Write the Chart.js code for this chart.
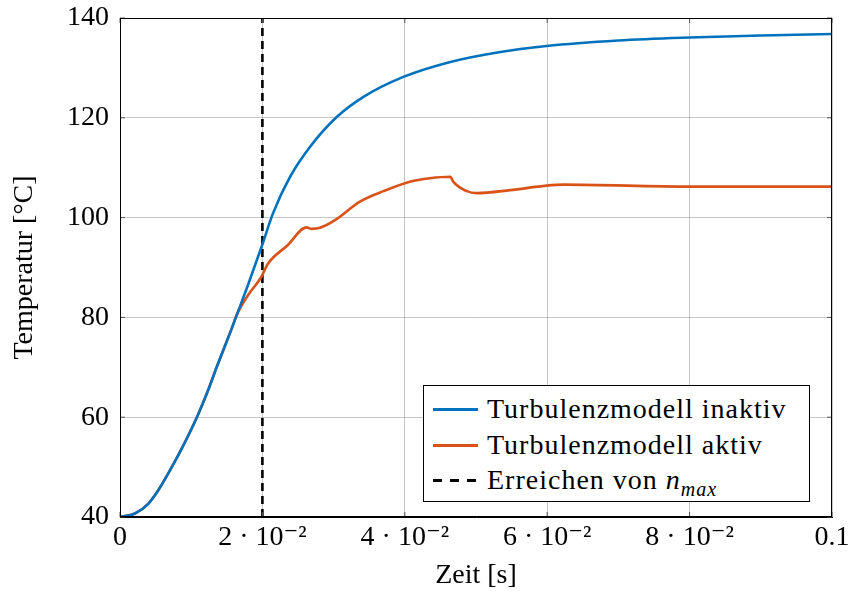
<!DOCTYPE html>
<html>
<head>
<meta charset="utf-8">
<script src="https://cdn.jsdelivr.net/npm/chart.js@4"></script>
<style>
  body { margin: 0; background: #fff; }
  #wrap { position: relative; width: 849px; height: 599px; }
  #legend {
    position: absolute; left: 423px; top: 385px; width: 385px; height: 110px;
    border: 1px solid #000; background: #fff; padding-top: 5px; box-sizing: content-box;
    font-family: "Liberation Serif", "DejaVu Serif", serif; font-size: 28px; letter-spacing: 1px; color: #000;
  }
  #legend .row { height: 35.5px; line-height: 35.5px; white-space: nowrap; padding-left: 9px; }
  #legend .swatch { display: inline-block; width: 45px; height: 3px; vertical-align: middle; margin-right: 9px; position: relative; top: -2px; }
  #legend sub { font-size: 20px; line-height: 0; }
</style>
</head>
<body>
<div id="wrap">
  <canvas id="chart" width="849" height="599"></canvas>
  <div id="legend">
    <div class="row"><span class="swatch" style="background:#0072BD"></span>Turbulenzmodell inaktiv</div>
    <div class="row"><span class="swatch" style="background:#D95319"></span>Turbulenzmodell aktiv</div>
    <div class="row"><span class="swatch" style="background:repeating-linear-gradient(to right,#000 0 9px,transparent 9px 17px)"></span>Erreichen von <i>n</i><sub><i>max</i></sub></div>
  </div>
</div>
<script>
// Zeitpunkte [s] und Temperaturen [°C]
const zeitInaktiv = [0, 0.0021, 0.004, 0.0054, 0.0068, 0.0087, 0.0108, 0.0124, 0.0136, 0.0157, 0.0164, 0.018, 0.0199, 0.0215, 0.0239, 0.0267, 0.0304, 0.0342, 0.0398, 0.0464, 0.053, 0.0599, 0.07, 0.08, 0.09, 0.1];
const tempInaktiv = [40, 40.7, 42.7, 45.4, 48.8, 53.8, 60.0, 65.5, 70.1, 77.8, 80.5, 86.6, 94.2, 100.9, 108.2, 114.2, 120.1, 124.2, 128.2, 131.2, 133.1, 134.4, 135.5, 136.1, 136.5, 136.8];

const zeitAktiv = [0, 0.0021, 0.004, 0.0054, 0.0068, 0.0087, 0.0108, 0.0124, 0.0136, 0.0157, 0.0164, 0.018, 0.0198, 0.0208, 0.0235, 0.0262, 0.0269, 0.0281, 0.0302, 0.0337, 0.037, 0.0407, 0.0435, 0.0464, 0.0468, 0.0487, 0.0501, 0.0548, 0.0599, 0.0623, 0.08, 0.1];
const tempAktiv = [40, 40.7, 42.7, 45.4, 48.8, 53.8, 60.0, 65.5, 70.1, 77.8, 80.5, 84.5, 88.0, 90.8, 94.4, 98.05, 97.75, 97.97, 99.5, 103.2, 105.3, 107.2, 107.9, 108.2, 107.2, 105.3, 104.9, 105.5, 106.4, 106.6, 106.2, 106.2];

// Erreichen von n_max
const zeitNmax = 0.02;

const xTickLabels = ['0', '2 · 10⁻²', '4 · 10⁻²', '6 · 10⁻²', '8 · 10⁻²', '0.1'];
const yTicks = [40, 60, 80, 100, 120, 140];

const serif = { family: '"Liberation Serif", "DejaVu Serif", serif', size: 28 };

const toPoints = (xs, ys) => xs.map((x, i) => ({ x: x, y: ys[i] }));

// Rahmen und kleine Tickstriche innen
const frame = {
    id: 'frame',
    afterDraw(chart) {
        const { ctx, chartArea: a, scales } = chart;
        ctx.save();
        ctx.strokeStyle = '#555';
        ctx.lineWidth = 1;
        ctx.beginPath();
        scales.x.ticks.forEach(t => {
            const px = scales.x.getPixelForValue(t.value);
            ctx.moveTo(px, a.bottom); ctx.lineTo(px, a.bottom - 5);
            ctx.moveTo(px, a.top); ctx.lineTo(px, a.top + 5);
        });
        scales.y.ticks.forEach(t => {
            const py = scales.y.getPixelForValue(t.value);
            ctx.moveTo(a.left, py); ctx.lineTo(a.left + 5, py);
            ctx.moveTo(a.right, py); ctx.lineTo(a.right - 5, py);
        });
        ctx.stroke();
        ctx.strokeStyle = '#000';
        ctx.strokeRect(a.left + 0.5, a.top + 0.5, a.right - a.left - 1, a.bottom - a.top - 1);
        ctx.restore();
    }
};

new Chart(document.getElementById('chart'), {
    type: 'line',
    data: {
        datasets: [
            {
                label: 'Turbulenzmodell inaktiv',
                data: toPoints(zeitInaktiv, tempInaktiv),
                borderColor: '#0072BD',
                borderWidth: 2.6,
                pointRadius: 0,
                cubicInterpolationMode: 'monotone'
            },
            {
                label: 'Turbulenzmodell aktiv',
                data: toPoints(zeitAktiv, tempAktiv),
                borderColor: '#D95319',
                borderWidth: 2.6,
                pointRadius: 0,
                cubicInterpolationMode: 'monotone'
            },
            {
                label: 'Erreichen von n_max',
                data: [{ x: zeitNmax, y: yTicks[0] }, { x: zeitNmax, y: yTicks[yTicks.length - 1] }],
                borderColor: '#000',
                borderWidth: 2.6,
                borderDash: [8, 5],
                pointRadius: 0
            }
        ]
    },
    options: {
        responsive: false,
        animation: false,
        layout: { padding: { left: 0, right: 17, top: 18, bottom: 0 } },
        plugins: { legend: { display: false }, tooltip: { enabled: false } },
        scales: {
            x: {
                type: 'linear',
                min: 0,
                max: 0.1,
                afterFit: s => { s.height = 82; s.paddingLeft = 0; s.paddingRight = 0; },
                afterBuildTicks: s => { s.ticks = xTickLabels.map((_, i) => ({ value: i * 0.02 })); },
                ticks: {
                    color: '#000',
                    font: serif,
                    padding: 4,
                    maxRotation: 0,
                    autoSkip: false,
                    callback: (v, i) => xTickLabels[i]
                },
                grid: { color: 'rgba(0,0,0,0.22)', drawTicks: false },
                border: { color: '#000' },
                title: { display: true, text: 'Zeit [s]', color: '#000', font: serif, padding: { top: 0, bottom: 7 } }
            },
            y: {
                min: 40,
                max: 140,
                afterFit: s => { s.width = 120; s.paddingTop = 0; s.paddingBottom = 0; },
                afterBuildTicks: s => { s.ticks = yTicks.map(v => ({ value: v })); },
                ticks: { color: '#000', font: serif, padding: 11 },
                grid: { color: 'rgba(0,0,0,0.22)', drawTicks: false },
                border: { color: '#000' },
                title: { display: true, text: 'Temperatur [°C]', color: '#000', font: serif, padding: { top: 8, bottom: 0 } }
            }
        }
    },
    plugins: [frame]
});
</script>
</body>
</html>
